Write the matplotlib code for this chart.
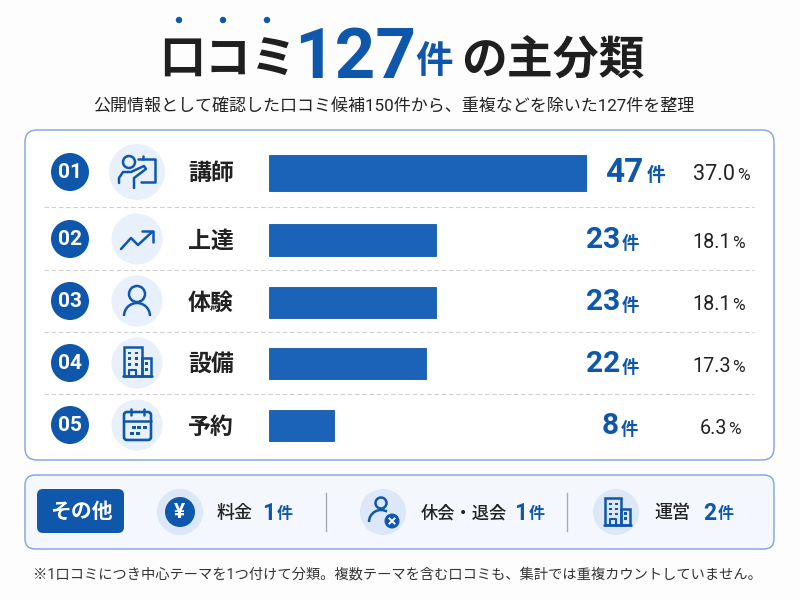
import numpy as np
import matplotlib.pyplot as plt
from matplotlib.patches import Circle, FancyBboxPatch, Rectangle, Arc, Polygon

plt.rcParams['font.family'] = ['Roboto', 'Noto Sans CJK JP', 'DejaVu Sans']

# data
categories = ['講師', '上達', '体験', '設備', '予約']
counts = [47, 23, 23, 22, 8]
shares = [37.0, 18.1, 18.1, 17.3, 6.3]
# the drawn bars are not quite proportional to the counts, lengths in count units of the top bar
bar_lengths = [47, 24.7, 24.7, 23.2, 9.6]
other_labels = ['料金', '休会・退会', '運営']
other_counts = [1, 1, 2]

BLUE = '#0f57ab'
BAR = '#1a63b8'
DARK = '#222222'
PALE = '#e8f0fb'
PALE2 = '#dce8f7'

row_y = [172, 239, 301, 363, 425]
bar_y = [173, 240, 302, 363, 425]
bar_h = [36, 32, 31, 31, 31]

fig = plt.figure(figsize=(8, 6), dpi=100, facecolor='#fdfdfe')
ax = fig.add_axes([0, 0, 1, 1])
ax.set_xlim(0, 800)
ax.set_ylim(600, 0)
ax.axis('off')


def txt(x, y, s, size, color=DARK, ha='left', weight='bold'):
    ax.text(x, y, s, fontsize=size, color=color, ha=ha, va='center', fontweight=weight, zorder=5)


def line(xs, ys, lw=1.8, color=BLUE):
    ax.plot(xs, ys, color=color, lw=lw, solid_capstyle='round', solid_joinstyle='round', zorder=4)


def person(cx, cy, s=1.0):
    ax.add_patch(Circle((cx, cy - 10 * s), 8 * s, fc='none', ec=BLUE, lw=1.8, zorder=4))
    ax.add_patch(Arc((cx, cy + 12 * s), 26 * s, 26 * s, theta1=180, theta2=360, ec=BLUE, lw=1.8, zorder=4))


def building(cx, cy, s=1.0):
    ax.add_patch(Rectangle((cx - 14 * s, cy - 16 * s), 19 * s, 31 * s, fc='none', ec=BLUE, lw=1.8, zorder=4))
    ax.add_patch(Rectangle((cx + 5 * s, cy - 4 * s), 10 * s, 19 * s, fc='none', ec=BLUE, lw=1.8, zorder=4))
    line([cx - 15 * s, cx + 16 * s], [cy + 15 * s, cy + 15 * s])
    for dx in (-9, -2):
        for dy in (-11, -5, 1):
            ax.add_patch(Rectangle((cx + dx * s, cy + dy * s), 3 * s, 3 * s, fc=BLUE, ec='none', zorder=4))
    for dy in (0, 6):
        ax.add_patch(Rectangle((cx + 8.5 * s, cy + dy * s), 3 * s, 3 * s, fc=BLUE, ec='none', zorder=4))
    line([cx - 8 * s, cx - 8 * s, cx - 1 * s, cx - 1 * s], [cy + 15 * s, cy + 8 * s, cy + 8 * s, cy + 15 * s], lw=1.5)


# title
for dx in (179, 223, 267):
    ax.add_patch(Circle((dx, 20), 3.2, fc=BLUE, ec='none'))
txt(159, 61, '口コミ', 33, color='#1f1f1f')
txt(294, 58, '127', 51, color=BLUE)
txt(415, 62, '件', 27, color=BLUE)
txt(461, 61, 'の主分類', 33, color='#1f1f1f')
txt(394, 106, '公開情報として確認した口コミ候補150件から、重複などを除いた127件を整理', 12.25, ha='center', weight='normal')

# main panel
ax.add_patch(FancyBboxPatch((25, 130), 749, 330, boxstyle='round,pad=0,rounding_size=12',
                            fc='white', ec='#7ba3dc', lw=1.0, zorder=1))
for y in [207, 270, 332, 394]:
    ax.plot([44, 754], [y, y], color='#d0d0d0', lw=0.8, ls=(0, (4, 2.5)), zorder=2)

# bars go through their own axes, 47 counts = 318 px
bar_ax = fig.add_axes([269 / 800, 0, 318 / 800, 1], zorder=3)
bar_ax.set_xlim(0, 47)
bar_ax.set_ylim(600, 0)
bar_ax.axis('off')
bar_ax.patch.set_alpha(0)
bar_ax.barh(bar_y, bar_lengths, height=bar_h, color=BAR, edgecolor='#1559a8', linewidth=0.6)

count_right = [664, 638, 638, 638, 637]
for i, y in enumerate(row_y):
    ax.add_patch(Circle((70, y), 19, fc=BLUE, ec='none', zorder=3))
    txt(70, y + 0.5, f'{i + 1:02d}', 15, color='white', ha='center')
    ax.add_patch(Circle((137, y), 28 if i == 0 else 25.5, fc=PALE, ec='none', zorder=3))
    txt(188, y + 2, categories[i], 16.5)
    r = count_right[i]
    txt(r - 21 if i == 0 else r - 18, y + 1, str(counts[i]), 24 if i == 0 else 21.5, color=BLUE, ha='right')
    txt(r + 1, y + 4, '件', 13.5 if i == 0 else 12.5, color=BLUE, ha='right')
    pr = [749, 744, 744, 744, 740][i]
    txt(pr - 14 if i == 0 else pr - 13, y + 3, f'{shares[i]:.1f}', 15.5 if i == 0 else 14.2, ha='right', weight='normal')
    txt(pr + 1, y + 4, '%', 12.5, ha='right', weight='normal')

# row icons
# presenter
ax.add_patch(Circle((129, 162), 6, fc='none', ec=BLUE, lw=1.8, zorder=4))
line([119, 119, 123, 131, 144, 146, 134, 134], [183, 178, 172, 172, 166, 169, 178, 188])
line([138, 155, 155, 141], [159, 159, 182, 182])
line([143, 143], [156, 159])
# trend arrow
line([121, 131, 138, 152], [249, 238, 245, 232])
line([142, 153, 153], [231, 231, 242])
person(137, 304)
building(137, 362, 0.95)
# calendar
ax.add_patch(FancyBboxPatch((124, 412), 27, 28, boxstyle='round,pad=0,rounding_size=3', fc='none', ec=BLUE, lw=1.9, zorder=4))
line([124, 151], [421, 421])
line([131, 131], [409, 415])
line([144, 144], [409, 415])
for px, py in [(132, 426), (137, 426), (143, 426), (130, 432), (136, 432)]:
    ax.add_patch(Rectangle((px, py), 3.5, 3, fc=BLUE, ec='none', zorder=4))

# other panel
ax.add_patch(FancyBboxPatch((25, 475), 749, 74, boxstyle='round,pad=0,rounding_size=10',
                            fc='#f4f8fe', ec='#7ba3dc', lw=1.0, zorder=1))
ax.add_patch(FancyBboxPatch((37, 489), 87, 44, boxstyle='round,pad=0,rounding_size=6', fc=BLUE, ec='none', zorder=3))
txt(81, 512, 'その他', 15, color='white', ha='center')

ax.add_patch(Circle((180, 512), 23, fc=PALE2, ec='none', zorder=3))
ax.add_patch(Circle((180, 512), 15, fc=BLUE, ec='none', zorder=4))
txt(180, 512, '¥', 15, color='white', ha='center')

ax.add_patch(Circle((383, 512), 23, fc=PALE2, ec='none', zorder=3))
ax.add_patch(Circle((381, 503), 5.5, fc='none', ec=BLUE, lw=1.8, zorder=4))
ax.add_patch(Arc((381, 522), 24, 24, theta1=180, theta2=300, ec=BLUE, lw=1.8, zorder=4))
ax.add_patch(Circle((392, 521), 7.5, fc=BLUE, ec='none', zorder=5))
ax.plot([389.5, 394.5], [518.5, 523.5], color='white', lw=1.4, zorder=6)
ax.plot([389.5, 394.5], [523.5, 518.5], color='white', lw=1.4, zorder=6)

ax.add_patch(Circle((616, 512), 23, fc=PALE2, ec='none', zorder=3))
building(617, 512, 0.85)

for x in (326, 567):
    ax.plot([x, x], [493, 531], color='#a9adb3', lw=1, zorder=2)

label_x = [217, 421, 654]
num_right = [275, 527, 716]
for i, lab in enumerate(other_labels):
    txt(label_x[i], 513, lab, 13 if i != 1 else 12.4, weight='medium')
    txt(num_right[i], 513, str(other_counts[i]), 16.5, color=BLUE, ha='right')
    txt(num_right[i] + 18, 514, '件', 11.5, color=BLUE, ha='right')

# footnote
txt(397, 574, '※1口コミにつき中心テーマを1つ付けて分類。複数テーマを含む口コミも、集計では重複カウントしていません。', 10.25, ha='center', weight='normal', color='#333333')

fig.savefig('out.png', dpi=100, facecolor=fig.get_facecolor())
